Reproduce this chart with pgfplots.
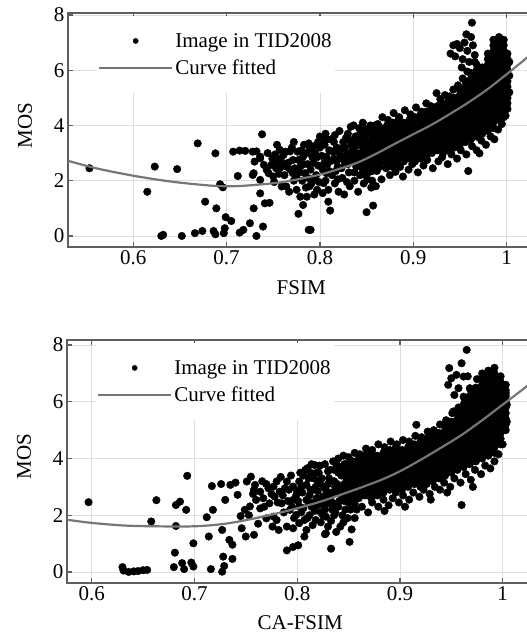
\documentclass[border=0pt]{standalone}
\usepackage{fontspec}
\setmainfont{Liberation Serif}
\usepackage{pgfplots}
\pgfplotsset{compat=1.18}
\definecolor{axcol}{RGB}{95,95,95}
\definecolor{gridcol}{RGB}{222,222,222}
\definecolor{curvecol}{RGB}{118,118,118}
\pgfplotsset{
  mosaxis/.style={
    scale only axis, width=466.5pt, xmax=1.03, clip mode=individual,
    xtick={0.6,0.7,0.8,0.9,1}, ytick={0,2,4,6,8},
    tick align=inside, major tick length=5pt,
    axis line style={draw=axcol,line width=1.5pt},
    every tick/.style={draw=axcol,line width=1.2pt},
    grid=major, grid style={draw=gridcol,line width=0.8pt},
    /pgf/number format/assume math mode=true,
    ticklabel style={font=\fontsize{21}{25}\selectfont},
    label style={font=\fontsize{21}{25}\selectfont},
    ylabel={MOS},
    ylabel style={at={(axis description cs:-0.092,0.52)},anchor=center},
    legend cell align=left,
    legend style={at={(rel axis cs:0.062,1)}, anchor=north west, yshift=-3pt, draw=none, fill=white,
      inner xsep=1pt, inner ysep=15pt, row sep=7pt,
      nodes={inner sep=2pt, font=\fontsize{21}{25}\selectfont}},
  },
  dots/.style={only marks, mark=*, mark size=3.8pt, black, forget plot},
  fitc/.style={curvecol, line width=2.2pt, no marks, smooth, forget plot},
}
\newcommand{\legimgs}{%
  \addlegendimage{legend image code/.code={\path[draw=none] (0pt,0pt) -- (73pt,0pt); \fill[black] (36.5pt,0pt) circle (2.6pt);}}
  \addlegendentry{Image in TID2008}
  \addlegendimage{legend image code/.code={\draw[curvecol,line width=2.2pt] (0pt,0pt) -- (73pt,0pt);}}
  \addlegendentry{Curve fitted}
}
\begin{document}
\begin{tikzpicture}
% ---------------- top: FSIM ----------------
\begin{axis}[mosaxis, at={(68pt,388pt)}, anchor=south west,
  height=234pt, xmin=0.53, ymin=-0.4, ymax=8.07,
  xlabel={FSIM}, xlabel style={at={(axis description cs:0.5,-0.175)},anchor=center}]
\legimgs
\addplot[dots] coordinates {
(0.553,2.45)(0.615,1.60)(0.623,2.51)(0.647,2.42)(0.669,3.35)(0.688,2.99)(0.693,1.87)(0.696,1.76)(0.677,1.24)(0.689,1.00)(0.699,0.68)(0.705,0.54)
(0.630,0.00)(0.632,0.04)(0.652,0.00)(0.666,0.10)(0.674,0.18)(0.686,0.18)(0.688,0.06)(0.698,0.28)(0.697,0.10)(0.714,0.12)(0.718,0.22)(0.725,0.46)(0.732,0.00)(0.739,0.34)
(0.729,1.00)(0.736,1.54)(0.741,1.18)(0.746,1.20)(0.707,3.05)(0.714,3.09)(0.720,3.08)(0.712,2.17)(0.728,3.05)(0.738,3.68)(0.729,2.27)(0.736,2.87)
(0.777,0.80)(0.788,0.22)(0.790,0.22)(0.809,1.24)(0.811,0.92)(0.850,0.86)(0.857,1.10)(0.959,2.35)(0.971,2.99)(0.963,7.72)
};
\addplot[dots] coordinates {
(0.754,3.30)(0.757,3.12)(0.761,2.93)(0.768,3.06)(0.771,2.75)(0.755,2.69)(0.748,2.57)(0.743,2.39)(0.750,2.15)(0.732,3.06)(0.730,2.69)(0.728,2.21)(0.736,2.03)(0.736,2.81)(0.740,2.57)(0.745,2.27)(0.757,2.45)(0.764,2.51)(0.771,2.27)(0.777,2.75)(0.782,2.87)(0.786,3.00)(0.789,3.12)(0.793,3.24)(0.800,3.60)(0.804,3.36)(0.807,3.48)(0.779,2.51)(0.784,2.27)(0.788,2.09)(0.791,1.91)(0.797,1.67)(0.775,1.67)(0.779,1.42)(0.786,1.42)(0.782,1.12)(0.759,1.79)(0.764,1.79)(0.807,2.87)(0.807,2.27)(0.804,1.91)(0.809,1.67)
(0.762,2.20)(0.766,2.65)(0.770,3.20)(0.773,2.45)(0.776,3.05)(0.781,2.00)(0.783,3.30)(0.787,2.60)(0.790,2.40)(0.792,2.85)(0.795,3.00)(0.796,2.20)(0.798,2.55)(0.799,1.95)(0.785,1.75)(0.794,1.50)(0.758,2.80)(0.752,2.95)
(0.802,2.90)(0.803,2.40)(0.805,3.30)(0.806,2.00)(0.808,2.60)(0.810,3.10)(0.812,3.50)(0.813,2.20)(0.815,2.80)(0.816,1.90)(0.818,3.20)(0.819,2.50)(0.820,1.60)(0.821,3.80)(0.822,2.90)(0.824,2.10)(0.825,3.40)(0.826,1.50)(0.827,2.60)(0.829,3.00)(0.830,3.70)(0.831,2.30)(0.832,1.80)(0.834,3.30)(0.835,2.70)(0.836,4.00)(0.837,2.00)(0.838,3.60)(0.839,2.50)(0.840,3.00)(0.841,1.60)(0.842,3.90)(0.843,2.20)(0.844,3.40)(0.845,2.80)(0.846,4.10)(0.847,1.90)(0.848,3.10)(0.849,2.50)(0.850,3.70)(0.852,2.30)(0.853,3.40)(0.854,4.00)(0.855,2.80)(0.856,2.00)(0.857,3.20)(0.858,3.80)(0.859,2.50)(0.860,1.80)(0.855,1.75)
(0.828,3.55)(0.833,2.85)(0.838,2.95)(0.844,3.00)(0.848,3.60)(0.851,2.90)(0.846,2.40)(0.852,3.10)(0.857,2.60)(0.840,3.50)(0.835,3.10)(0.826,2.75)(0.818,2.70)(0.823,3.15)(0.815,3.40)
(0.845,3.25)(0.849,3.85)(0.851,3.35)(0.853,2.65)(0.854,3.00)(0.856,3.55)(0.857,2.95)(0.858,3.35)(0.859,4.00)(0.856,2.35)(0.851,2.05)(0.847,2.70)(0.843,3.70)(0.842,2.55)(0.838,3.25)(0.836,3.45)(0.833,3.95)(0.830,2.60)(0.827,3.20)(0.823,2.45)(0.820,3.05)(0.817,2.35)(0.814,3.05)(0.810,2.35)(0.805,2.65)(0.800,3.20)(0.797,2.85)(0.793,2.65)(0.788,3.35)(0.780,3.10)(0.775,2.20)(0.772,2.00)(0.768,2.40)(0.762,2.60)(0.753,2.45)(0.749,2.80)
(0.744,3.00)(0.751,1.95)(0.756,2.25)(0.763,3.05)(0.767,1.60)(0.772,3.40)(0.778,2.30)(0.783,2.60)(0.789,1.80)(0.794,2.10)(0.798,3.40)(0.803,1.55)(0.806,3.70)(0.811,2.70)(0.816,3.65)(0.819,2.05)(0.824,2.80)(0.829,1.95)(0.832,3.45)(0.837,2.30)(0.841,2.80)(0.846,3.55)(0.849,2.20)(0.853,3.75)(0.855,2.50)(0.858,3.05)(0.861,2.60)(0.863,3.95)(0.864,2.50)
};
\addplot[dots] coordinates {
(0.862,4.05)(0.867,4.30)(0.873,4.20)(0.879,4.45)(0.885,4.30)(0.891,4.55)(0.897,4.40)(0.903,4.65)(0.909,4.50)(0.914,4.80)(0.919,4.70)(0.925,5.17)(0.929,4.95)(0.934,5.10)(0.939,5.05)(0.943,5.30)(0.948,5.45)(0.953,5.70)(0.958,5.95)(0.966,6.30)
(0.940,6.60)(0.943,6.90)(0.947,6.95)(0.945,6.50)(0.950,6.80)(0.953,6.40)(0.955,7.00)(0.958,6.70)(0.960,6.30)(0.962,7.20)(0.964,6.90)(0.966,6.55)(0.952,6.10)(0.957,7.30)
(0.861,2.35)(0.866,2.05)(0.871,2.45)(0.875,2.20)(0.881,2.32)(0.886,2.50)(0.889,2.15)(0.895,2.40)(0.899,2.60)(0.905,2.30)(0.911,2.55)(0.915,2.75)(0.921,2.45)(0.927,2.70)(0.931,2.85)(0.937,2.60)(0.941,2.95)(0.947,2.80)(0.951,3.10)(0.957,2.95)(0.963,3.25)(0.968,3.10)(0.973,3.45)(0.978,3.30)(0.983,3.60)(0.987,3.50)(0.991,3.85)(0.995,4.05)(0.999,4.35)(1.001,4.60)
(1.003,5.20)(1.003,5.80)(1.003,6.30)
};
\addplot[dots] coordinates {
(0.860,2.8)(0.860,3.0)(0.860,3.2)(0.860,3.4)(0.860,3.6)(0.860,3.8)
(0.866,2.7)(0.866,2.9)(0.866,3.1)(0.866,3.3)(0.866,3.5)(0.866,3.7)(0.866,3.9)
(0.872,2.6)(0.872,2.8)(0.872,3.0)(0.872,3.2)(0.872,3.4)(0.872,3.6)(0.872,3.8)(0.872,4.0)
(0.878,2.5)(0.878,2.7)(0.878,2.9)(0.878,3.1)(0.878,3.3)(0.878,3.5)(0.878,3.7)(0.878,3.9)(0.878,4.1)
(0.884,2.6)(0.884,2.8)(0.884,3.0)(0.884,3.2)(0.884,3.4)(0.884,3.6)(0.884,3.8)(0.884,4.0)(0.884,4.2)
(0.890,2.7)(0.890,2.9)(0.890,3.1)(0.890,3.3)(0.890,3.5)(0.890,3.7)(0.890,3.9)(0.890,4.1)
(0.896,2.8)(0.896,3.0)(0.896,3.2)(0.896,3.4)(0.896,3.6)(0.896,3.8)(0.896,4.0)(0.896,4.2)
(0.902,2.7)(0.902,2.9)(0.902,3.1)(0.902,3.3)(0.902,3.5)(0.902,3.7)(0.902,3.9)(0.902,4.1)(0.902,4.3)
(0.908,2.8)(0.908,3.0)(0.908,3.2)(0.908,3.4)(0.908,3.6)(0.908,3.8)(0.908,4.0)(0.908,4.2)(0.908,4.4)
(0.914,2.9)(0.914,3.1)(0.914,3.3)(0.914,3.5)(0.914,3.7)(0.914,3.9)(0.914,4.1)(0.914,4.3)(0.914,4.5)
(0.920,3.0)(0.920,3.2)(0.920,3.4)(0.920,3.6)(0.920,3.8)(0.920,4.0)(0.920,4.2)(0.920,4.4)(0.920,4.6)
(0.926,3.1)(0.926,3.3)(0.926,3.5)(0.926,3.7)(0.926,3.9)(0.926,4.1)(0.926,4.3)(0.926,4.5)(0.926,4.7)
(0.932,3.0)(0.932,3.2)(0.932,3.4)(0.932,3.6)(0.932,3.8)(0.932,4.0)(0.932,4.2)(0.932,4.4)(0.932,4.6)(0.932,4.8)
(0.938,3.1)(0.938,3.3)(0.938,3.5)(0.938,3.7)(0.938,3.9)(0.938,4.1)(0.938,4.3)(0.938,4.5)(0.938,4.7)(0.938,4.9)
(0.944,3.2)(0.944,3.4)(0.944,3.6)(0.944,3.8)(0.944,4.0)(0.944,4.2)(0.944,4.4)(0.944,4.6)(0.944,4.8)(0.944,5.0)
(0.950,3.3)(0.950,3.5)(0.950,3.7)(0.950,3.9)(0.950,4.1)(0.950,4.3)(0.950,4.5)(0.950,4.7)(0.950,4.9)(0.950,5.1)(0.950,5.3)
(0.956,3.4)(0.956,3.6)(0.956,3.8)(0.956,4.0)(0.956,4.2)(0.956,4.4)(0.956,4.6)(0.956,4.8)(0.956,5.0)(0.956,5.2)(0.956,5.4)(0.956,5.6)
(0.962,3.5)(0.962,3.7)(0.962,3.9)(0.962,4.1)(0.962,4.3)(0.962,4.5)(0.962,4.7)(0.962,4.9)(0.962,5.1)(0.962,5.3)(0.962,5.5)(0.962,5.7)(0.962,5.9)
(0.968,3.6)(0.968,3.8)(0.968,4.0)(0.968,4.2)(0.968,4.4)(0.968,4.6)(0.968,4.8)(0.968,5.0)(0.968,5.2)(0.968,5.4)(0.968,5.6)(0.968,5.8)(0.968,6.0)(0.968,6.2)
(0.974,3.7)(0.974,3.9)(0.974,4.1)(0.974,4.3)(0.974,4.5)(0.974,4.7)(0.974,4.9)(0.974,5.1)(0.974,5.3)(0.974,5.5)(0.974,5.7)(0.974,5.9)(0.974,6.1)
(0.980,3.8)(0.980,4.0)(0.980,4.2)(0.980,4.4)(0.980,4.6)(0.980,4.8)(0.980,5.0)(0.980,5.2)(0.980,5.4)(0.980,5.6)(0.980,5.8)(0.980,6.0)(0.980,6.2)(0.980,6.4)(0.980,6.6)
(0.986,3.9)(0.986,4.1)(0.986,4.3)(0.986,4.5)(0.986,4.7)(0.986,4.9)(0.986,5.1)(0.986,5.3)(0.986,5.5)(0.986,5.7)(0.986,5.9)(0.986,6.1)(0.986,6.3)(0.986,6.5)(0.986,6.7)(0.986,6.9)(0.986,7.1)
(0.992,4.2)(0.992,4.4)(0.992,4.6)(0.992,4.8)(0.992,5.0)(0.992,5.2)(0.992,5.4)(0.992,5.6)(0.992,5.8)(0.992,6.0)(0.992,6.2)(0.992,6.4)(0.992,6.6)(0.992,6.8)(0.992,7.0)(0.992,7.2)
(0.997,4.3)(0.997,4.5)(0.997,4.7)(0.997,4.9)(0.997,5.1)(0.997,5.3)(0.997,5.5)(0.997,5.7)(0.997,5.9)(0.997,6.1)(0.997,6.3)(0.997,6.5)(0.997,6.7)(0.997,6.9)(0.997,7.1)
(1.001,4.8)(1.001,5.0)(1.001,5.2)(1.001,5.4)(1.001,5.6)(1.001,5.8)(1.001,6.0)(1.001,6.2)(1.001,6.4)(1.001,6.6)
};
\addplot[fitc] coordinates {
(0.53,2.72)(0.56,2.45)(0.60,2.18)(0.64,1.97)(0.68,1.83)(0.70,1.80)(0.72,1.82)(0.76,1.95)(0.80,2.22)(0.82,2.42)(0.84,2.65)(0.86,2.97)(0.88,3.33)(0.90,3.68)(0.92,4.03)(0.94,4.43)(0.96,4.85)(0.98,5.32)(1.00,5.85)(1.02,6.40)(1.03,6.70)
};
\end{axis}
% ---------------- bottom: CA-FSIM ----------------
\begin{axis}[mosaxis, at={(67pt,52pt)}, anchor=south west,
  height=243pt, xmin=0.576, ymin=-0.39, ymax=8.18,
  xlabel={CA-FSIM}, xlabel style={at={(axis description cs:0.5,-0.165)},anchor=center}]
\legimgs
\addplot[dots] coordinates {
(0.597,2.46)(0.663,2.53)(0.658,1.78)(0.630,0.17)(0.631,0.05)(0.636,0.00)(0.641,0.02)(0.645,0.03)(0.650,0.06)(0.654,0.07)
(0.682,1.62)(0.682,2.36)(0.686,2.48)(0.692,2.19)(0.693,3.39)(0.681,0.68)(0.680,0.17)(0.688,0.31)(0.690,0.10)(0.697,0.33)(0.699,0.19)(0.699,1.01)
(0.712,1.93)(0.714,1.25)(0.717,3.03)(0.718,2.19)(0.716,0.10)(0.727,1.48)(0.726,3.10)(0.730,2.54)(0.728,0.54)(0.737,0.46)(0.729,0.21)(0.727,0.01)(0.734,1.13)(0.737,0.96)(0.735,3.07)(0.740,3.15)(0.742,2.72)(0.745,1.97)(0.746,1.54)(0.750,1.25)(0.758,1.31)
};
\addplot[dots] coordinates {
(0.749,2.19)(0.754,2.31)(0.751,3.19)(0.755,3.36)(0.759,3.07)(0.764,2.83)(0.767,2.60)(0.760,2.54)(0.764,2.24)(0.773,2.42)(0.777,3.01)(0.780,3.19)(0.783,2.83)(0.778,2.66)(0.785,2.42)(0.790,3.19)(0.796,3.01)(0.802,3.19)(0.809,3.07)(0.810,3.66)(0.817,3.77)(0.815,2.89)(0.822,3.13)(0.825,2.66)(0.828,1.95)(0.796,2.54)(0.793,2.19)(0.802,2.31)(0.809,2.54)(0.799,2.01)(0.807,1.83)(0.780,1.83)(0.770,1.89)(0.777,1.95)(0.782,1.48)(0.790,1.60)(0.796,1.54)(0.802,1.72)(0.809,1.48)(0.807,1.25)(0.801,0.94)(0.796,0.88)(0.790,0.76)(0.828,1.36)(0.818,1.83)(0.833,0.82)(0.851,1.06)(0.827,1.33)(0.838,1.41)
(0.812,2.00)(0.814,2.30)(0.816,3.30)(0.819,2.60)(0.821,3.50)(0.823,2.10)(0.826,3.00)(0.827,3.80)(0.829,2.40)(0.831,3.30)(0.833,1.80)(0.834,2.80)(0.836,3.60)(0.837,2.10)(0.839,3.10)(0.840,4.00)(0.841,2.50)(0.842,1.60)(0.843,3.40)(0.845,2.80)(0.846,3.80)(0.847,2.20)(0.849,1.90)(0.850,3.10)(0.844,2.00)(0.838,2.40)(0.832,3.60)(0.825,2.00)(0.818,3.00)(0.812,2.70)(0.805,2.80)(0.806,3.40)(0.813,3.50)(0.820,2.35)(0.835,3.90)(0.845,4.10)(0.830,1.60)(0.853,1.50)(0.856,1.90)(0.858,2.20)(0.852,2.20)
(0.770,3.10)(0.786,2.70)(0.792,2.90)(0.799,2.70)(0.804,3.00)(0.811,3.30)(0.819,3.50)(0.824,2.40)(0.828,2.90)(0.835,2.40)(0.839,2.80)(0.843,3.00)(0.848,2.70)(0.842,3.70)(0.831,2.70)
(0.801,2.50)(0.804,2.10)(0.808,3.60)(0.811,2.45)(0.814,3.80)(0.817,2.15)(0.820,2.85)(0.822,3.75)(0.824,3.30)(0.826,2.55)(0.830,3.10)(0.833,2.50)(0.836,3.20)(0.838,3.80)(0.840,2.30)(0.842,2.90)(0.844,3.55)(0.846,2.50)(0.848,3.30)(0.850,2.45)(0.852,3.60)(0.853,2.90)(0.855,3.30)(0.856,2.40)(0.836,2.00)(0.827,2.20)(0.815,1.65)(0.795,2.30)(0.788,2.95)(0.775,2.75)(0.766,3.20)(0.757,2.75)
(0.753,2.00)(0.758,2.90)(0.762,1.70)(0.768,2.30)(0.772,2.95)(0.776,1.60)(0.781,2.45)(0.784,3.35)(0.787,2.10)(0.791,2.50)(0.794,3.40)(0.797,1.90)(0.800,2.85)(0.803,3.50)(0.806,2.25)(0.810,1.90)(0.813,2.90)(0.816,2.45)(0.820,3.20)(0.823,1.75)(0.827,2.65)(0.830,3.55)(0.834,2.20)(0.837,3.00)(0.840,3.50)(0.843,2.55)(0.846,3.10)(0.849,3.60)(0.851,2.65)(0.845,1.75)
};
\addplot[dots] coordinates {
(0.850,4.05)(0.856,4.20)(0.861,4.15)(0.867,4.35)(0.873,4.30)(0.879,4.50)(0.885,4.40)(0.891,4.60)(0.897,4.50)(0.903,4.65)(0.909,4.60)(0.915,4.80)(0.921,4.75)(0.927,4.95)(0.933,5.00)(0.939,5.20)(0.945,5.35)(0.951,5.60)(0.957,5.80)(0.963,6.10)(0.969,6.40)(0.975,6.80)(0.916,5.19)
(0.950,6.83)(0.955,6.95)(0.960,7.36)(0.962,6.89)(0.957,6.48)(0.953,6.24)(0.962,6.18)(0.952,5.66)(0.958,5.66)(0.968,6.48)(0.948,7.19)(0.965,7.83)(0.947,6.60)(0.966,6.90)
(0.863,2.30)(0.869,2.10)(0.873,2.45)(0.879,2.30)(0.884,2.55)(0.889,2.35)(0.893,2.60)(0.899,2.45)(0.903,2.70)(0.909,2.55)(0.913,2.80)(0.919,2.65)(0.923,2.90)(0.929,2.75)(0.934,3.00)(0.939,2.90)(0.943,3.15)(0.949,3.00)(0.953,3.30)(0.959,3.15)(0.964,3.45)(0.969,3.25)(0.973,3.60)(0.979,3.45)(0.983,3.75)(0.988,3.65)(0.992,3.90)(0.996,4.15)(1.000,4.50)(0.960,2.36)(0.885,2.15)(0.905,2.30)(0.930,2.55)(0.946,2.80)(0.971,3.00)
(1.004,5.30)(1.004,5.90)(1.003,6.30)
};
\addplot[dots] coordinates {
(0.848,2.6)(0.848,2.8)(0.848,3.0)(0.848,3.2)(0.848,3.4)(0.848,3.6)(0.848,3.8)
(0.854,2.5)(0.854,2.7)(0.854,2.9)(0.854,3.1)(0.854,3.3)(0.854,3.5)(0.854,3.7)(0.854,3.9)
(0.860,2.6)(0.860,2.8)(0.860,3.0)(0.860,3.2)(0.860,3.4)(0.860,3.6)(0.860,3.8)(0.860,4.0)
(0.866,2.7)(0.866,2.9)(0.866,3.1)(0.866,3.3)(0.866,3.5)(0.866,3.7)(0.866,3.9)(0.866,4.1)
(0.872,2.6)(0.872,2.8)(0.872,3.0)(0.872,3.2)(0.872,3.4)(0.872,3.6)(0.872,3.8)(0.872,4.0)(0.872,4.2)
(0.878,2.7)(0.878,2.9)(0.878,3.1)(0.878,3.3)(0.878,3.5)(0.878,3.7)(0.878,3.9)(0.878,4.1)
(0.884,2.8)(0.884,3.0)(0.884,3.2)(0.884,3.4)(0.884,3.6)(0.884,3.8)(0.884,4.0)(0.884,4.2)
(0.890,2.9)(0.890,3.1)(0.890,3.3)(0.890,3.5)(0.890,3.7)(0.890,3.9)(0.890,4.1)(0.890,4.3)
(0.896,2.8)(0.896,3.0)(0.896,3.2)(0.896,3.4)(0.896,3.6)(0.896,3.8)(0.896,4.0)(0.896,4.2)(0.896,4.4)
(0.902,2.9)(0.902,3.1)(0.902,3.3)(0.902,3.5)(0.902,3.7)(0.902,3.9)(0.902,4.1)(0.902,4.3)
(0.908,3.0)(0.908,3.2)(0.908,3.4)(0.908,3.6)(0.908,3.8)(0.908,4.0)(0.908,4.2)(0.908,4.4)
(0.914,3.1)(0.914,3.3)(0.914,3.5)(0.914,3.7)(0.914,3.9)(0.914,4.1)(0.914,4.3)(0.914,4.5)
(0.920,3.0)(0.920,3.2)(0.920,3.4)(0.920,3.6)(0.920,3.8)(0.920,4.0)(0.920,4.2)(0.920,4.4)(0.920,4.6)
(0.926,3.1)(0.926,3.3)(0.926,3.5)(0.926,3.7)(0.926,3.9)(0.926,4.1)(0.926,4.3)(0.926,4.5)(0.926,4.7)
(0.932,3.2)(0.932,3.4)(0.932,3.6)(0.932,3.8)(0.932,4.0)(0.932,4.2)(0.932,4.4)(0.932,4.6)(0.932,4.8)
(0.938,3.3)(0.938,3.5)(0.938,3.7)(0.938,3.9)(0.938,4.1)(0.938,4.3)(0.938,4.5)(0.938,4.7)(0.938,4.9)
(0.944,3.4)(0.944,3.6)(0.944,3.8)(0.944,4.0)(0.944,4.2)(0.944,4.4)(0.944,4.6)(0.944,4.8)(0.944,5.0)(0.944,5.2)
(0.950,3.5)(0.950,3.7)(0.950,3.9)(0.950,4.1)(0.950,4.3)(0.950,4.5)(0.950,4.7)(0.950,4.9)(0.950,5.1)(0.950,5.3)
(0.956,3.6)(0.956,3.8)(0.956,4.0)(0.956,4.2)(0.956,4.4)(0.956,4.6)(0.956,4.8)(0.956,5.0)(0.956,5.2)(0.956,5.4)(0.956,5.6)
(0.962,3.7)(0.962,3.9)(0.962,4.1)(0.962,4.3)(0.962,4.5)(0.962,4.7)(0.962,4.9)(0.962,5.1)(0.962,5.3)(0.962,5.5)(0.962,5.7)(0.962,5.9)
(0.968,3.8)(0.968,4.0)(0.968,4.2)(0.968,4.4)(0.968,4.6)(0.968,4.8)(0.968,5.0)(0.968,5.2)(0.968,5.4)(0.968,5.6)(0.968,5.8)(0.968,6.0)(0.968,6.2)
(0.974,3.9)(0.974,4.1)(0.974,4.3)(0.974,4.5)(0.974,4.7)(0.974,4.9)(0.974,5.1)(0.974,5.3)(0.974,5.5)(0.974,5.7)(0.974,5.9)(0.974,6.1)(0.974,6.3)(0.974,6.5)
(0.980,4.0)(0.980,4.2)(0.980,4.4)(0.980,4.6)(0.980,4.8)(0.980,5.0)(0.980,5.2)(0.980,5.4)(0.980,5.6)(0.980,5.8)(0.980,6.0)(0.980,6.2)(0.980,6.4)(0.980,6.6)(0.980,6.8)(0.980,7.0)
(0.986,4.1)(0.986,4.3)(0.986,4.5)(0.986,4.7)(0.986,4.9)(0.986,5.1)(0.986,5.3)(0.986,5.5)(0.986,5.7)(0.986,5.9)(0.986,6.1)(0.986,6.3)(0.986,6.5)(0.986,6.7)(0.986,6.9)(0.986,7.1)
(0.992,4.2)(0.992,4.4)(0.992,4.6)(0.992,4.8)(0.992,5.0)(0.992,5.2)(0.992,5.4)(0.992,5.6)(0.992,5.8)(0.992,6.0)(0.992,6.2)(0.992,6.4)(0.992,6.6)(0.992,6.8)(0.992,7.0)(0.992,7.2)
(0.998,4.5)(0.998,4.7)(0.998,4.9)(0.998,5.1)(0.998,5.3)(0.998,5.5)(0.998,5.7)(0.998,5.9)(0.998,6.1)(0.998,6.3)(0.998,6.5)(0.998,6.7)(0.998,6.9)
(1.003,5.0)(1.003,5.2)(1.003,5.4)(1.003,5.6)(1.003,5.8)(1.003,6.0)(1.003,6.2)(1.003,6.4)(1.003,6.6)
};
\addplot[fitc] coordinates {
(0.576,1.84)(0.60,1.73)(0.63,1.64)(0.66,1.61)(0.70,1.61)(0.73,1.70)(0.76,1.90)(0.79,2.15)(0.82,2.45)(0.85,2.82)(0.88,3.22)(0.90,3.55)(0.92,3.95)(0.94,4.38)(0.96,4.83)(0.98,5.35)(1.00,5.90)(1.02,6.45)(1.03,6.75)
};
\end{axis}
\pgfresetboundingbox
\useasboundingbox (0pt,0pt) rectangle (527pt,635pt);
\end{tikzpicture}
\end{document}
